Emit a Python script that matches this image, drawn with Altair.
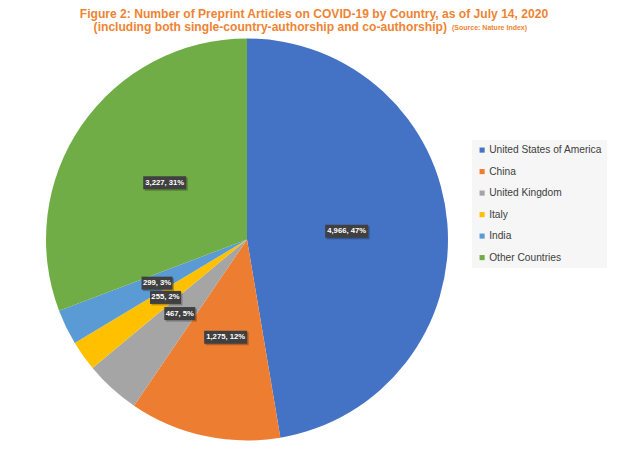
import altair as alt
import pandas as pd

countries = ["United States of America", "China", "United Kingdom", "Italy", "India", "Other Countries"]
values = [4966, 1275, 467, 255, 299, 3227]
labels = ["4,966, 47%", "1,275, 12%", "467, 5%", "255, 2%", "299, 3%", "3,227, 31%"]
colors = ["#4472C4", "#ED7D31", "#A5A5A5", "#FFC000", "#5B9BD5", "#70AD47"]

title_line1 = ["Figure 2: Number of Preprint Articles on COVID-19 by Country, as of July 14, 2020"]
title_line2 = ["(including both single-country-authorship and co-authorship)"]
title_source = ["(Source: Nature Index)"]

CX, CY, R, LR = 239, 231.5, 201, 100
FONT = "Liberation Sans"
ORANGE = "#EE8433"

df = pd.DataFrame({"country": countries, "value": values, "label": labels, "idx": list(range(len(values)))})

base = alt.Chart(df)

shadow = alt.Chart(pd.DataFrame({"v": [1]})).mark_arc(
    radius=204, color="#000000", opacity=0.10
).encode(theta=alt.Theta("v:Q"), x=alt.value(CX + 1), y=alt.value(CY + 2))

shadow2 = alt.Chart(pd.DataFrame({"v": [1]})).mark_arc(
    radius=207, color="#000000", opacity=0.05
).encode(theta=alt.Theta("v:Q"), x=alt.value(CX + 1), y=alt.value(CY + 3))

pie = base.mark_arc(radius=R, stroke=None).encode(
    theta=alt.Theta("value:Q", stack=True),
    order=alt.Order("idx:Q"),
    color=alt.Color(
        "country:N",
        scale=alt.Scale(domain=countries, range=colors),
        legend=alt.Legend(
            title=None, orient="none", legendX=464, legendY=132,
            fillColor="#F6F6F6", padding=5, symbolType="square", symbolSize=26,
            labelFont=FONT, labelFontSize=10.2, labelColor="#404040",
            rowPadding=10.5, symbolStrokeWidth=0, labelOffset=2,
        ),
    ),
    x=alt.value(CX), y=alt.value(CY),
)

pos = base.transform_window(
    cum="sum(value)", sort=[alt.SortField("idx")], frame=[None, 0]
).transform_joinaggregate(
    total="sum(value)"
).transform_calculate(
    mid="2*PI*(datum.cum - datum.value/2)/datum.total",
).transform_calculate(
    px=f"{CX} + {LR}*sin(datum.mid)",
    py=f"{CY} - {LR}*cos(datum.mid)",
    hw="(length(datum.label)*4 + 3)/2",
).transform_calculate(
    x1="datum.px - datum.hw", x2="datum.px + datum.hw",
    y1="datum.py - 6.5", y2="datum.py + 6.5",
    sx1="datum.px - datum.hw + 1.5", sx2="datum.px + datum.hw + 1.5",
    sy1="datum.py - 5", sy2="datum.py + 8",
)

box_shadow = pos.mark_rect(color="#000000", opacity=0.25).encode(
    x=alt.X("sx1:Q", scale=None, axis=None), x2="sx2:Q",
    y=alt.Y("sy1:Q", scale=None, axis=None), y2="sy2:Q",
)
boxes = pos.mark_rect(color="#404040").encode(
    x=alt.X("x1:Q", scale=None, axis=None), x2="x2:Q",
    y=alt.Y("y1:Q", scale=None, axis=None), y2="y2:Q",
)
texts = pos.mark_text(color="white", font=FONT, fontWeight="bold", fontSize=7.7, baseline="middle").encode(
    x=alt.X("px:Q", scale=None, axis=None),
    y=alt.Y("py:Q", scale=None, axis=None),
    text="label:N",
)

t1 = alt.Chart(pd.DataFrame({"t": title_line1})).mark_text(
    font=FONT, fontWeight="bold", fontSize=12.1, color=ORANGE, align="center", baseline="middle"
).encode(text="t:N", x=alt.value(306), y=alt.value(6))
t2 = alt.Chart(pd.DataFrame({"t": title_line2})).mark_text(
    font=FONT, fontWeight="bold", fontSize=12.1, color=ORANGE, align="right", baseline="middle"
).encode(text="t:N", x=alt.value(439), y=alt.value(18.5))
t3 = alt.Chart(pd.DataFrame({"t": title_source})).mark_text(
    font=FONT, fontWeight="bold", fontSize=7, color=ORANGE, align="left", baseline="middle"
).encode(text="t:N", x=alt.value(444), y=alt.value(19.5))

chart = alt.layer(shadow2, shadow, pie, box_shadow, boxes, texts, t1, t2, t3).properties(
    width=609, height=433, padding=0, autosize=alt.AutoSizeParams(type="none")
).configure_view(stroke=None)

chart.save("out.html", embed_options={"renderer": "svg", "actions": False})
